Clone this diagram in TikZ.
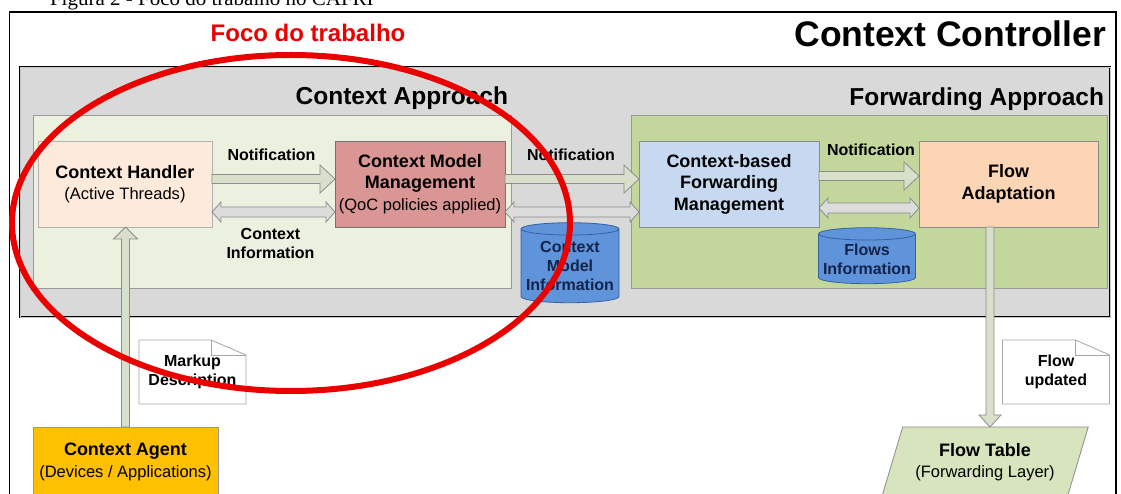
\documentclass[tikz,border=0pt]{standalone}
\usepackage{fontspec}
\setmainfont{Liberation Sans}
\newfontfamily\captionserif{Liberation Serif}
\usetikzlibrary{shapes.geometric,calc}

\definecolor{panelgray}{RGB}{217,217,217}
\definecolor{ctxgreen}{RGB}{235,241,222}
\definecolor{fwdgreen}{RGB}{195,214,155}
\definecolor{chfill}{RGB}{253,234,218}
\definecolor{cmmfill}{RGB}{218,150,148}
\definecolor{cbfmfill}{RGB}{198,217,241}
\definecolor{fafill}{RGB}{252,213,181}
\definecolor{cylfill}{RGB}{96,148,218}
\definecolor{cylline}{RGB}{55,96,160}
\definecolor{cyltext}{RGB}{20,35,75}
\definecolor{agentfill}{RGB}{255,192,0}
\definecolor{tablefill}{RGB}{215,228,189}
\definecolor{notiffill}{RGB}{216,223,203}
\definecolor{infofill}{RGB}{220,220,220}
\definecolor{focusred}{RGB}{235,0,0}

\newcommand\titlefont{\fontsize{18}{21.5}\selectfont\bfseries}
\newcommand\subfont{\fontsize{16.5}{21.5}\selectfont\mdseries}
\newcommand\labelfont{\fontsize{16}{19}\selectfont\bfseries}

% single-headed block arrow from the east side of #1 to the west side of #2, row shifted by #3
\newcommand\notifconn[3]{%
  \path[notifarrow] let \p1=($(#1.east)+(0,#3)$), \p2=(#2.west) in
    (\x1,\y1+4.5pt) -- (\x2-15pt,\y1+4.5pt) -- (\x2-15pt,\y1+14pt) -- (\x2,\y1)
    -- (\x2-15pt,\y1-14pt) -- (\x2-15pt,\y1-4.5pt) -- (\x1,\y1-4.5pt) -- cycle;}
% double-headed block arrow between the east side of #1 and the west side of #2
\newcommand\infoconn[3]{%
  \path[infoarrow] let \p1=($(#1.east)+(0,#3)$), \p2=(#2.west) in
    (\x1,\y1) -- (\x1+9pt,\y1+10pt) -- (\x1+9pt,\y1+5pt) -- (\x2-9pt,\y1+5pt)
    -- (\x2-9pt,\y1+10pt) -- (\x2,\y1) -- (\x2-9pt,\y1-10pt) -- (\x2-9pt,\y1-5pt)
    -- (\x1+9pt,\y1-5pt) -- (\x1+9pt,\y1-10pt) -- cycle;}
% vertical block arrows
\newcommand\upconn[2]{%
  \path[notifarrow] let \p1=(#1), \p2=(#2) in
    (\x1-4pt,\y1) -- (\x1-4pt,\y2-12pt) -- (\x1-12pt,\y2-12pt) -- (\x1,\y2)
    -- (\x1+12pt,\y2-12pt) -- (\x1+4pt,\y2-12pt) -- (\x1+4pt,\y1) -- cycle;}
\newcommand\downconn[2]{%
  \path[notifarrow] let \p1=(#1), \p2=(#2) in
    (\x1-4pt,\y1) -- (\x1-4pt,\y2+12pt) -- (\x1-11pt,\y2+12pt) -- (\x1,\y2)
    -- (\x1+11pt,\y2+12pt) -- (\x1+4pt,\y2+12pt) -- (\x1+4pt,\y1) -- cycle;}

\begin{document}
\begin{tikzpicture}[x=1pt,y=-1pt,
  every node/.style={inner sep=0pt, outer sep=0pt, text=black},
  box/.style={draw=black!45, line width=0.8pt, minimum height=86pt, align=center, font=\titlefont},
  cyl/.style={cylinder, shape border rotate=90, aspect=0.14, draw=cylline, fill=cylfill,
    line width=0.8pt, text=cyltext, font=\labelfont, align=center},
  note/.style={minimum width=107pt, minimum height=64pt, align=center, font=\labelfont},
  noteline/.style={draw=black!35, line width=0.8pt},
  notifarrow/.style={draw=black!45, fill=notiffill, line width=0.8pt},
  infoarrow/.style={draw=black!45, fill=infofill, line width=0.8pt},
  lbl/.style={font=\labelfont, align=center},
  heading/.style={font=\fontsize{24.5}{27}\selectfont\bfseries}]

\useasboundingbox (0,0) rectangle (1121,494);
\clip (0,0) rectangle (1121,494);
\fill[white] (0,0) rectangle (1121,494);

% caption line above the frame
\node[anchor=base west, font=\captionserif\fontsize{21}{24}\selectfont] (caption) at (50,6)
  {Figura 2 - Foco do trabalho no CAFRI};

% controller frame
\draw[line width=1.3pt] (9.5,12) rectangle (1116,530);
\node[anchor=base, text=focusred, font=\fontsize{24}{27}\selectfont\bfseries] (foco) at (308,42) {Foco do trabalho};
\node[anchor=base east, font=\fontsize{35.5}{40}\selectfont\bfseries] (ctrl) at (1106,47) {Context Controller};

% approach panel
\draw[draw=black, double=gray!45, double distance=0.7pt, line width=1pt, fill=panelgray] (20,67) rectangle (1110,317);
\node[heading, anchor=base east] (ctxapp) at (508,105) {Context Approach};
\node[heading, anchor=base east] (fwdapp) at (1104,106) {Forwarding Approach};
\draw[draw=black!40, line width=0.8pt, fill=ctxgreen] (33,115) rectangle (511,288);
\draw[draw=black!40, line width=0.8pt, fill=fwdgreen] (631,115) rectangle (1107,288);

% processing blocks
\node[box, fill=chfill, draw=black!30, minimum width=174pt] (ch) at (125,184)
  {Context Handler\\{\subfont (Active Threads)}};
\node[box, fill=cmmfill, draw=black!55, minimum width=170pt] (cmm) at (420,184)
  {Context Model\\Management\\{\subfont (QoC policies applied)}};
\node[box, fill=cbfmfill, minimum width=180pt] (cbfm) at (729,184)
  {Context-based\\Forwarding\\Management};
\node[box, fill=fafill, minimum width=179pt] (fa) at (1008.5,184) {Flow\\Adaptation};

% connectors between blocks
\notifconn{ch}{cmm}{-5}
\infoconn{ch}{cmm}{28}
\notifconn{cmm}{cbfm}{-5}
\infoconn{cmm}{cbfm}{28}
\notifconn{cbfm}{fa}{-8}
\infoconn{cbfm}{fa}{24}

\node[lbl, anchor=base] (n1) at (271.5,161) {Notification};
\node[lbl] (ci) at (270.5,243) {Context\\Information};
\node[lbl, anchor=base] (n2) at (571,161) {Notification};
\node[lbl, anchor=base] (n3) at (871,156) {Notification};

% data stores
\node[cyl, minimum width=98pt, minimum height=80pt] (cmi) at (570,266) {Context\\Model\\Information};
\node[cyl, minimum width=97pt, minimum height=56pt] (fi) at (867,259) {Flows\\Information};

% outside the panel
\node[box, fill=agentfill, draw=black!40, minimum width=185pt, minimum height=70pt] (ca) at (125.5,462)
  {Context Agent\\{\subfont (Devices / Applications)}};
\node[trapezium, trapezium left angle=65, trapezium right angle=115, trapezium stretches=true,
  minimum width=207pt, minimum height=70pt, fill=tablefill, draw=black!45, line width=0.8pt,
  align=center, font=\titlefont] (ft) at (985,462)
  {Flow Table\\{\subfont (Forwarding Layer)}};

\upconn{ca.north}{ch.south}
\downconn{$(fa.south)+(-18.5,0)$}{ft.north}

% message notes with folded corner
\node[note] (md) at (192.5,372) {Markup\\Description};
\draw[noteline] (md.north west) -- ($(md.north east)+(-35,0)$) -- ($(md.north east)+(0,15)$)
  -- (md.south east) -- (md.south west) -- cycle;
\draw[noteline] ($(md.north east)+(-35,0)$) -- ($(md.north east)+(-35,15)$) -- ($(md.north east)+(0,15)$);
\node[note] (fu) at (1056,372) {Flow\\updated};
\draw[noteline] (fu.north west) -- ($(fu.north east)+(-34,0)$) -- ($(fu.north east)+(0,15)$)
  -- (fu.south east) -- (fu.south west) -- cycle;
\draw[noteline] ($(fu.north east)+(-34,0)$) -- ($(fu.north east)+(-34,15)$) -- ($(fu.north east)+(0,15)$);

% highlighted focus area
\node[ellipse, draw=focusred, line width=6pt, minimum width=558pt, minimum height=336pt] (focus) at (291,223) {};
\end{tikzpicture}
\end{document}
